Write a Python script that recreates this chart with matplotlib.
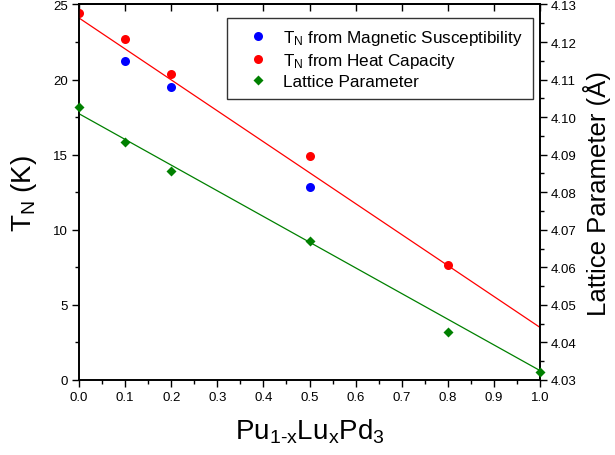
import numpy as np
import matplotlib
matplotlib.use("Agg")
import matplotlib.pyplot as plt
from matplotlib.ticker import MultipleLocator, FormatStrFormatter
from matplotlib.lines import Line2D

plt.rcParams['font.family'] = ['Liberation Sans', 'DejaVu Sans']
plt.rcParams['mathtext.fontset'] = 'custom'
plt.rcParams['mathtext.rm'] = 'Liberation Sans'
plt.rcParams['mathtext.it'] = 'Liberation Sans'

# data
x_chi = [0.1, 0.2, 0.5]
tn_chi = [21.25, 19.5, 12.85]

x_cp = [0.0, 0.1, 0.2, 0.5, 0.8]
tn_cp = [24.45, 22.73, 20.35, 14.93, 7.67]

x_lat = [0.0, 0.1, 0.2, 0.5, 0.8, 1.0]
a_lat = [4.1027, 4.0934, 4.0857, 4.0670, 4.0427, 4.0320]

# linear fit lines (end points)
fit_x = [0.0, 1.0]
fit_tn = [24.1, 3.5]
fit_a = [4.1009, 4.0325]

fig = plt.figure(figsize=(6.15, 4.56), dpi=100)
ax = fig.add_axes([0.1285, 0.1645, 0.7496, 0.8235])
ax2 = ax.twinx()

ax.plot(fit_x, fit_tn, color='#ff0000', lw=0.9, zorder=2)
ax.plot(x_chi, tn_chi, 'o', color='#0000ff', ms=6.5, mec='none', zorder=3)
ax.plot(x_cp, tn_cp, 'o', color='#ff0000', ms=6.5, mec='none', zorder=3)
ax2.plot(fit_x, fit_a, color='#008000', lw=0.9, zorder=2)
ax2.plot(x_lat, a_lat, 'D', color='#008000', ms=5.5, mec='none', zorder=3, clip_on=False)

ax.set_xlim(0, 1.0)
ax.set_ylim(0, 25)
ax2.set_ylim(4.03, 4.13)

ax.xaxis.set_major_locator(MultipleLocator(0.1))
ax.xaxis.set_minor_locator(MultipleLocator(0.05))
ax.xaxis.set_major_formatter(FormatStrFormatter('%.1f'))
ax.yaxis.set_major_locator(MultipleLocator(5))
ax.yaxis.set_minor_locator(MultipleLocator(2.5))
ax2.yaxis.set_major_locator(MultipleLocator(0.01))
ax2.yaxis.set_minor_locator(MultipleLocator(0.005))
ax2.yaxis.set_major_formatter(FormatStrFormatter('%.2f'))

ax.tick_params(which='major', direction='out', length=5, width=1, labelsize=9.5, pad=3)
ax.tick_params(which='minor', direction='out', length=3, width=1)
ax2.tick_params(which='major', direction='out', length=5, width=1, labelsize=9.5, pad=3)
ax2.tick_params(which='minor', direction='out', length=3, width=1)

top = ax.secondary_xaxis('top')
top.xaxis.set_major_locator(MultipleLocator(0.1))
top.tick_params(direction='in', length=5, width=1, labelsize=0)
top.set_xticklabels([])

for a in (ax, ax2):
    for s in a.spines.values():
        s.set_linewidth(1.2)
top.spines['top'].set_linewidth(1.2)

ax.set_xlabel(r'Pu$_{\mathrm{1\text{-}x}}$Lu$_{\mathrm{x}}$Pd$_{\mathrm{3}}$', fontsize=20, labelpad=10)
ax.set_ylabel(r'T$_{\mathrm{N}}$ (K)', fontsize=20, labelpad=10)
ax2.set_ylabel('Lattice Parameter (Å)', fontsize=18.5, labelpad=4)

handles = [
    Line2D([], [], ls='none', marker='o', color='#0000ff', ms=6.5, mec='none'),
    Line2D([], [], ls='none', marker='o', color='#ff0000', ms=6.5, mec='none'),
    Line2D([], [], ls='none', marker='D', color='#008000', ms=5.5, mec='none'),
]
labels = [r'T$_{\mathrm{N}}$ from Magnetic Susceptibility',
          r'T$_{\mathrm{N}}$ from Heat Capacity',
          'Lattice Parameter']
leg = ax2.legend(handles, labels, loc='upper right', bbox_to_anchor=(0.985, 0.964),
                 fontsize=12.3, frameon=True, fancybox=False, edgecolor='black',
                 handlelength=2.45, handletextpad=0.25, borderpad=0.6, labelspacing=0.22,
                 borderaxespad=0)
leg.get_frame().set_linewidth(1.0)

fig.savefig('out.png', dpi=100)
